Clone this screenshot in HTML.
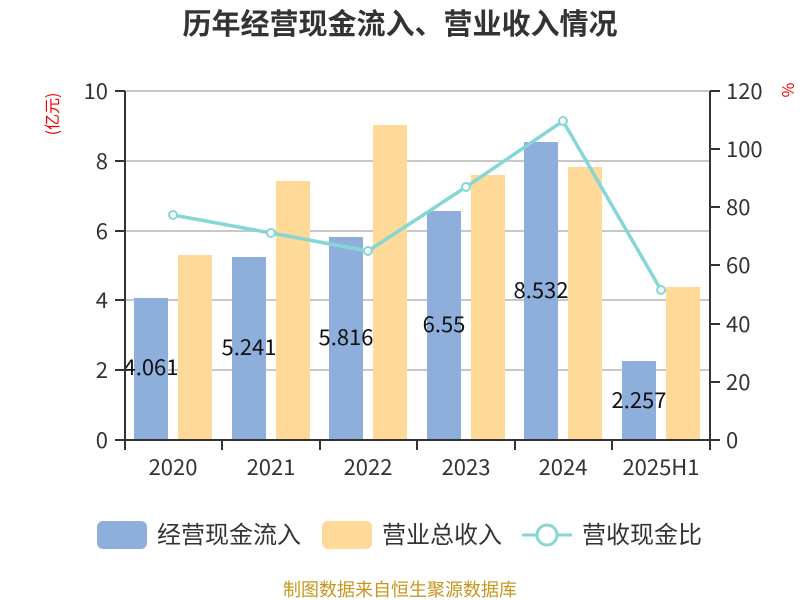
<!DOCTYPE html>
<html><head><meta charset="utf-8"><style>body{margin:0;background:#fff}svg{display:block}</style></head><body>
<svg width="800" height="600" xmlns="http://www.w3.org/2000/svg" font-family="'Noto Sans CJK SC','Liberation Sans',sans-serif">
<text x="400" y="34" text-anchor="middle" font-size="29" font-weight="bold" fill="#333">历年经营现金流入、营业收入情况</text>
<g stroke="#c8c8c8" stroke-width="2">
<line x1="125" x2="710" y1="91" y2="91"/><line x1="125" x2="710" y1="161" y2="161"/><line x1="125" x2="710" y1="231" y2="231"/><line x1="125" x2="710" y1="300" y2="300"/><line x1="125" x2="710" y1="370" y2="370"/>
</g>
<g fill="#8eaedb">
<rect x="134" y="298" width="34" height="142"/><rect x="232" y="257" width="34" height="183"/><rect x="329" y="237" width="34" height="203"/><rect x="427" y="211" width="34" height="229"/><rect x="524" y="142" width="34" height="298"/><rect x="622" y="361" width="34" height="79"/>
</g>
<g fill="#fed998">
<rect x="178" y="255" width="34" height="185"/><rect x="276" y="181" width="34" height="259"/><rect x="373" y="125" width="34" height="315"/><rect x="471" y="175" width="34" height="265"/><rect x="568" y="167" width="34" height="273"/><rect x="666" y="287" width="34" height="153"/>
</g>
<polyline points="173,215 271,233 368,251 466,187 563,121 661,290" fill="none" stroke="#87d6d6" stroke-width="3.5"/>
<g fill="#fff" stroke="#87d6d6" stroke-width="2">
<circle cx="173" cy="215" r="4"/><circle cx="271" cy="233" r="4"/><circle cx="368" cy="251" r="4"/><circle cx="466" cy="187" r="4"/><circle cx="563" cy="121" r="4"/><circle cx="661" cy="290" r="4"/>
</g>
<g font-size="22" fill="#111" text-anchor="middle">
<text x="151" y="375">4.061</text><text x="249" y="355">5.241</text><text x="346" y="345">5.816</text><text x="444" y="332">6.55</text><text x="541" y="298">8.532</text><text x="639" y="408">2.257</text>
</g>
<g stroke="#333" stroke-width="2">
<line x1="125" x2="125" y1="91" y2="441"/><line x1="710" x2="710" y1="91" y2="441"/><line x1="124" x2="711" y1="440" y2="440"/>
<line x1="115" x2="125" y1="91" y2="91"/><line x1="115" x2="125" y1="161" y2="161"/><line x1="115" x2="125" y1="231" y2="231"/><line x1="115" x2="125" y1="300" y2="300"/><line x1="115" x2="125" y1="370" y2="370"/><line x1="115" x2="125" y1="440" y2="440"/>
<line x1="710" x2="720" y1="91" y2="91"/><line x1="710" x2="720" y1="149" y2="149"/><line x1="710" x2="720" y1="207" y2="207"/><line x1="710" x2="720" y1="265" y2="265"/><line x1="710" x2="720" y1="324" y2="324"/><line x1="710" x2="720" y1="382" y2="382"/><line x1="710" x2="720" y1="440" y2="440"/>
<line x1="125" x2="125" y1="440" y2="450"/><line x1="222" x2="222" y1="440" y2="450"/><line x1="320" x2="320" y1="440" y2="450"/><line x1="417" x2="417" y1="440" y2="450"/><line x1="515" x2="515" y1="440" y2="450"/><line x1="612" x2="612" y1="440" y2="450"/><line x1="710" x2="710" y1="440" y2="450"/>
</g>
<g font-size="22" fill="#333" text-anchor="end">
<text x="108" y="99">10</text><text x="108" y="169">8</text><text x="108" y="239">6</text><text x="108" y="308">4</text><text x="108" y="378">2</text><text x="108" y="448">0</text>
</g>
<g font-size="22" fill="#333">
<text x="726" y="99">120</text><text x="726" y="157">100</text><text x="726" y="215">80</text><text x="726" y="273">60</text><text x="726" y="332">40</text><text x="726" y="390">20</text><text x="726" y="448">0</text>
</g>
<g font-size="22" fill="#333" text-anchor="middle">
<text x="173" y="475">2020</text><text x="271" y="475">2021</text><text x="368" y="475">2022</text><text x="466" y="475">2023</text><text x="563" y="475">2024</text><text x="661" y="475">2025H1</text>
</g>
<text transform="translate(58,114) rotate(-90)" text-anchor="middle" font-size="16" fill="#e00">(亿元)</text>
<text transform="translate(782,90) rotate(90)" text-anchor="middle" font-size="16" fill="#e00">%</text>
<rect x="97" y="521" width="50" height="28" rx="6" fill="#8eaedb"/>
<text x="157" y="543" font-size="24" fill="#333">经营现金流入</text>
<rect x="322" y="521" width="50" height="28" rx="6" fill="#fed998"/>
<text x="382" y="543" font-size="24" fill="#333">营业总收入</text>
<line x1="522" x2="572" y1="535" y2="535" stroke="#87d6d6" stroke-width="3"/>
<circle cx="547" cy="535" r="10" fill="#fff" stroke="#87d6d6" stroke-width="3"/>
<text x="582" y="543" font-size="24" fill="#333">营收现金比</text>
<text x="400" y="596" text-anchor="middle" font-size="18" fill="#c8961e">制图数据来自恒生聚源数据库</text>
</svg>
</body></html>
